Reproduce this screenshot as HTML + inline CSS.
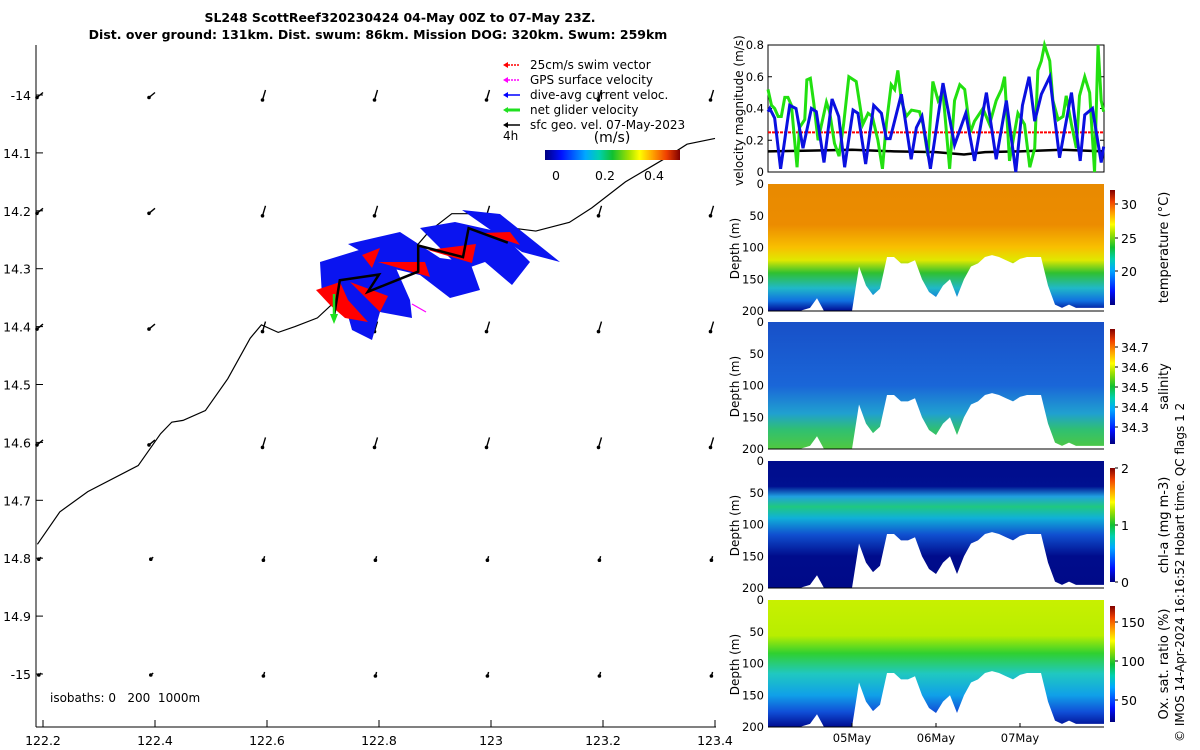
<!DOCTYPE html>
<html><head><meta charset="utf-8"><style>
body{margin:0;background:#fff;}
svg{display:block;font-family:"DejaVu Sans","Liberation Sans",sans-serif;}
</style></head><body>
<svg id="c" width="1200" height="750" viewBox="0 0 1200 750" xmlns="http://www.w3.org/2000/svg">
<defs>
<linearGradient id="jet" x1="0" y1="1" x2="0" y2="0">
<stop offset="0" stop-color="#000080"/><stop offset="0.12" stop-color="#0010ff"/><stop offset="0.3" stop-color="#00a8ff"/><stop offset="0.4" stop-color="#00d0b0"/><stop offset="0.5" stop-color="#10c030"/><stop offset="0.62" stop-color="#a0e000"/><stop offset="0.7" stop-color="#ffff00"/><stop offset="0.8" stop-color="#ffa000"/><stop offset="0.9" stop-color="#f04000"/><stop offset="1" stop-color="#800000"/></linearGradient>
<linearGradient id="jeth" x1="0" y1="0" x2="1" y2="0">
<stop offset="0" stop-color="#000080"/><stop offset="0.12" stop-color="#0010ff"/><stop offset="0.3" stop-color="#00a8ff"/><stop offset="0.4" stop-color="#00d0b0"/><stop offset="0.5" stop-color="#10c030"/><stop offset="0.62" stop-color="#a0e000"/><stop offset="0.7" stop-color="#ffff00"/><stop offset="0.8" stop-color="#ffa000"/><stop offset="0.9" stop-color="#f04000"/><stop offset="1" stop-color="#800000"/></linearGradient>
<linearGradient id="gT" x1="0" y1="0" x2="0" y2="1">
<stop offset="0" stop-color="#e88a00"/><stop offset="0.32" stop-color="#ec8c00"/><stop offset="0.5" stop-color="#f8c000"/><stop offset="0.6" stop-color="#e0e800"/><stop offset="0.7" stop-color="#30c030"/><stop offset="0.82" stop-color="#20b8c8"/><stop offset="0.92" stop-color="#1070e0"/><stop offset="1" stop-color="#000a90"/></linearGradient>
<linearGradient id="gS" x1="0" y1="0" x2="0" y2="1">
<stop offset="0" stop-color="#1850c8"/><stop offset="0.5" stop-color="#1a66d8"/><stop offset="0.72" stop-color="#20a0d0"/><stop offset="0.85" stop-color="#30c070"/><stop offset="1" stop-color="#50c840"/></linearGradient>
<linearGradient id="gC" x1="0" y1="0" x2="0" y2="1">
<stop offset="0" stop-color="#000c8c"/><stop offset="0.2" stop-color="#001090"/><stop offset="0.28" stop-color="#20a0e0"/><stop offset="0.36" stop-color="#20c880"/><stop offset="0.45" stop-color="#10b0d8"/><stop offset="0.58" stop-color="#1050d0"/><stop offset="0.75" stop-color="#000c8c"/><stop offset="1" stop-color="#000a88"/></linearGradient>
<linearGradient id="gO" x1="0" y1="0" x2="0" y2="1">
<stop offset="0" stop-color="#c8f000"/><stop offset="0.28" stop-color="#b8ee00"/><stop offset="0.42" stop-color="#30d030"/><stop offset="0.58" stop-color="#20c8c0"/><stop offset="0.75" stop-color="#10a0e8"/><stop offset="0.88" stop-color="#1050d8"/><stop offset="1" stop-color="#000c90"/></linearGradient>
</defs>
<text x="400" y="22" text-anchor="middle" font-weight="bold" font-size="12.5">SL248 ScottReef320230424 04-May 00Z to 07-May 23Z.</text>
<text x="378" y="39" text-anchor="middle" font-weight="bold" font-size="12.5">Dist. over ground: 131km. Dist. swum: 86km. Mission DOG: 320km. Swum: 259km</text>
<g id="map"></g>
<g id="vel"></g>
<g id="sec"></g>
<text transform="translate(1184,742) rotate(-90)" font-size="12">© IMOS 14-Apr-2024 16:16:52 Hobart time. QC flags 1  2</text>
</svg>
<script>
const NS='http://www.w3.org/2000/svg';
function mk(p,t,a,txt){const e=document.createElementNS(NS,t);for(const k in a)e.setAttribute(k,a[k]);if(txt!==undefined)e.textContent=txt;p.appendChild(e);return e;}
// ---- map data ----
const lonTicks=[122.2,122.4,122.6,122.8,123,123.2,123.4];
const latTicks=[-14,-14.1,-14.2,-14.3,-14.4,-14.5,-14.6,-14.7,-14.8,-14.9,-15];
const latLabels=['-14','14.1','14.2','14.3','14.4','14.5','14.6','14.7','14.8','14.9','-15'];
const gridLats=[-14,-14.2,-14.4,-14.6,-14.8,-15];
const gridLons=[122.2,122.4,122.6,122.8,123,123.2,123.4];
const coastLon=[122.19,122.23,122.28,122.37,122.41,122.43,122.45,122.49,122.53,122.57,122.59,122.62,122.65,122.69,122.74,122.85,122.89,122.93,122.97,123.04,123.08,123.14,123.18,123.24,123.31,123.35,123.4];
const coastLat=[-14.776,-14.72,-14.685,-14.64,-14.585,-14.565,-14.562,-14.545,-14.49,-14.42,-14.397,-14.41,-14.4,-14.385,-14.34,-14.28,-14.235,-14.205,-14.205,-14.23,-14.235,-14.22,-14.195,-14.15,-14.11,-14.085,-14.075];
const trackLon=[122.72,122.73,122.8,122.78,122.87,122.87,122.95,122.96,123.03];
const trackLat=[-14.38,-14.32,-14.31,-14.34,-14.305,-14.26,-14.28,-14.23,-14.255];
const X=l=>43+(l-122.2)*560, Y=l=>95+(-14-l)*579;
const map=document.getElementById('map');
let e;
e=mk(map,'line',{x1:36,y1:45,x2:36,y2:727,stroke:'#000'});
e=mk(map,'line',{x1:36,y1:727,x2:716,y2:727,stroke:'#000'});
lonTicks.forEach(l=>{mk(map,'line',{x1:X(l),y1:727,x2:X(l),y2:720,stroke:'#000'});e=mk(map,'text',{x:X(l),y:745,'text-anchor':'middle','font-size':12.5},String(l));});
latTicks.forEach((l,i)=>{mk(map,'line',{x1:36,y1:Y(l),x2:43,y2:Y(l),stroke:'#000'});e=mk(map,'text',{x:31,y:Y(l)+5,'text-anchor':'end','font-size':12.5},latLabels[i]);});
e=mk(map,'polyline',{points:coastLon.map((l,i)=>X(l)+','+Y(coastLat[i])).join(' '),fill:'none',stroke:'#000','stroke-width':1.2});
gridLats.forEach((la,r)=>gridLons.forEach((lo,c)=>{const x=X(lo)-3,y=Y(la);const s=la<-14.7?0.4:1;const dx=-(c<2?6:3)*s,dy=(c<2?5:10)*s;
 e=mk(map,'line',{x1:x-dx/2,y1:y-dy/2,x2:x+dx/2,y2:y+dy/2,stroke:'#000','stroke-width':1.4});
 mk(map,'circle',{cx:x+dx/2,cy:y+dy/2,r:1.8,fill:'#000'});}));
const blues=[
 [[320,262],[372,246],[395,266],[410,300],[412,318],[380,312],[372,340],[352,330],[345,305],[322,296]],
 [[348,244],[400,232],[440,258],[470,262],[480,290],[450,298],[420,275],[390,268]],
 [[420,228],[455,222],[500,232],[530,262],[512,285],[485,262],[462,270]],
 [[462,210],[500,214],[560,262],[522,252],[505,240]]];
blues.forEach(b=>{e=mk(map,'polygon',{points:b.map(p=>p.join(',')).join(' '),fill:'#0a14f0'});});
const red=[[316,290],[340,282],[348,300],[368,322],[345,318],[330,305]];
e=mk(map,'polygon',{points:red.map(p=>p.join(',')).join(' '),fill:'#f00'});
[[[350,282],[388,296],[380,312]],[[378,262],[430,277],[425,262]],[[428,250],[472,263],[476,244]],[[484,233],[520,245],[510,232]]].forEach(t=>{mk(map,'polygon',{points:t.map(p=>p.join(',')).join(' '),fill:'#f00'});});
mk(map,'polygon',{points:'362,255 380,248 372,268',fill:'#f00'});
e=mk(map,'polyline',{points:trackLon.map((l,i)=>X(l)+','+Y(trackLat[i])).join(' '),fill:'none',stroke:'#000','stroke-width':2.5});
mk(map,'line',{x1:334,y1:294,x2:334,y2:318,stroke:'#20e020','stroke-width':2.5});mk(map,'polygon',{points:'330,314 338,314 334,324',fill:'#20e020'});
mk(map,'line',{x1:412,y1:304,x2:426,y2:312,stroke:'#f0f','stroke-width':1.2});
// legend
const legC=['#f00','#f0f','#00f','#20e020','#000'],legT=['25cm/s swim vector','GPS surface velocity','dive-avg current veloc.','net glider velocity','sfc geo. vel. 07-May-2023'];
legT.forEach((t,i)=>{const y=65+i*15;const g=mk(map,'g',{});
 mk(g,'line',{x1:505,y1:y,x2:520,y2:y,stroke:legC[i],'stroke-width':i==3?3:1.5,'stroke-dasharray':i<2?'2,1':'none'});mk(g,'polygon',{points:`503,${y} 508,${y-3} 508,${y+3}`,fill:legC[i]});
 mk(g,'text',{x:530,y:y+4,'font-size':12},t);});
mk(map,'text',{x:503,y:140,'font-size':12},'4h');
mk(map,'text',{x:612,y:142,'text-anchor':'middle','font-size':14},'(m/s)');
e=mk(map,'rect',{x:545,y:150,width:135,height:10,fill:'url(#jeth)'});
[['0',556],['0.2',605],['0.4',654]].forEach(a=>mk(map,'text',{x:a[1],y:180,'text-anchor':'middle','font-size':12.5},a[0]));
e=mk(map,'text',{x:50,y:702,'font-size':12,style:'white-space:pre'},'isobaths: 0   200  1000m');

// ---- velocity panel ----
const blueT=[0,0.5,1.9,3.6,6.2,8.0,10.0,12.4,13.8,16.0,18.3,20.2,21.9,24.3,25.7,27.9,30.2,32.4,33.8,34.9,38.1,40.9,42.4,44.0,46.4,50.0,53.3,56.5,59.0,62.4,65.2,68.1,70.8,72.7,74.6,76.2,78.1,80.5,83.3,86.7,89.2,90.5,92.7,95.2,95.9];
const blueV=[0.38,0.40,0.34,0.02,0.42,0.40,0.15,0.40,0.38,0.06,0.46,0.35,0.03,0.39,0.37,0.05,0.42,0.37,0.21,0.21,0.49,0.08,0.28,0.35,0.02,0.56,0.17,0.37,0.07,0.50,0.08,0.45,0.0,0.42,0.60,0.32,0.49,0.60,0.09,0.50,0.07,0.36,0.40,0.06,0.16];
const greenT=[0,1.0,1.9,2.9,3.8,4.8,5.7,6.7,7.6,8.3,9.0,10.5,11.1,12.1,13.1,14.3,15.7,16.7,17.6,19.0,20.3,21.6,23.1,25.2,27.1,28.6,29.8,31.4,32.7,33.8,35.2,36.2,37.1,38.1,39.5,41.0,43.3,44.3,45.7,47.1,48.6,50.0,51.9,53.3,54.8,56.2,57.8,59.0,61.4,63.3,65.2,66.7,67.6,69.0,71.4,73.3,74.8,76.2,77.1,78.1,79.0,80.5,81.4,82.9,84.3,85.2,86.7,88.1,89.0,90.5,91.9,93.3,94.3,95.2,95.9];
const greenV=[0.52,0.42,0.40,0.35,0.35,0.47,0.47,0.42,0.20,0.03,0.28,0.33,0.58,0.59,0.43,0.20,0.34,0.44,0.38,0.18,0.10,0.30,0.60,0.57,0.30,0.37,0.35,0.20,0.02,0.30,0.55,0.52,0.64,0.45,0.35,0.39,0.38,0.30,0.10,0.57,0.45,0.50,0.02,0.45,0.55,0.52,0.25,0.32,0.40,0.30,0.45,0.52,0.60,0.07,0.37,0.30,0.03,0.15,0.64,0.70,0.80,0.70,0.45,0.33,0.35,0.48,0.30,0.15,0.48,0.60,0.50,0.0,0.80,0.45,0.38];
const geoT=[0,12,24,36,48,56,62,72,84,96];
const geoV=[0.13,0.135,0.14,0.13,0.125,0.11,0.125,0.13,0.14,0.13];
const swimV=0.25;
const velTicks=[0,0.2,0.4,0.6,0.8];
const VX=h=>768+h*3.5, VY=v=>172-v*158.75;
const vel=document.getElementById('vel');
mk(vel,'rect',{x:768,y:45,width:336,height:127,fill:'none',stroke:'#000'});
velTicks.forEach(v=>{mk(vel,'line',{x1:768,y1:VY(v),x2:772,y2:VY(v),stroke:'#000'});mk(vel,'line',{x1:1104,y1:VY(v),x2:1100,y2:VY(v),stroke:'#000'});mk(vel,'text',{x:764,y:VY(v)+4,'text-anchor':'end','font-size':11.5},String(v));});
e=mk(vel,'text',{transform:'translate(743,186) rotate(-90)','font-size':12},'velocity magnitude (m/s)');
e=mk(vel,'line',{x1:768,y1:VY(swimV),x2:1104,y2:VY(swimV),stroke:'#f00','stroke-width':2,'stroke-dasharray':'3,1'});
e=mk(vel,'polyline',{points:geoT.map((t,i)=>VX(t)+','+VY(geoV[i])).join(' '),fill:'none',stroke:'#000','stroke-width':2.5});
e=mk(vel,'polyline',{points:greenT.map((t,i)=>VX(t)+','+VY(greenV[i])).join(' '),fill:'none',stroke:'#22e010','stroke-width':3});
e=mk(vel,'polyline',{points:blueT.map((t,i)=>VX(t)+','+VY(blueV[i])).join(' '),fill:'none',stroke:'#0a10e0','stroke-width':3});

// ---- sections ----
const profT=[0,3,6,9,12,14,16,18,22,24,26,28,30,32,34,36,38,40,42,44,46,48,50,52,54,56,58,60,62,64,66,68,70,72,74,76,78,80,82,84,86,88,90,92,94,96];
const profD=[200,200,200,200,195,180,200,200,200,200,130,160,175,165,115,115,125,125,120,150,170,178,160,150,178,150,130,125,115,112,115,120,125,118,115,115,115,160,190,195,190,195,195,195,195,195];
const dayTicks=['05May','06May','07May'];
const depthTicks=[0,50,100,150,200];
const panels=[
 {top:184,g:'gT',name:'temperature',label:'temperature (°C)',cb:[190,305],ct:[['30',204],['25',238],['20',271]]},
 {top:322,g:'gS',name:'salinity',label:'salinity',cb:[329,444],ct:[['34.7',347],['34.6',367],['34.5',387],['34.4',407],['34.3',427]]},
 {top:461,g:'gC',name:'chl-a',label:'chl-a (mg m-3)',cb:[468,582],ct:[['2',468],['1',525],['0',582]]},
 {top:600,g:'gO',name:'oxygen',label:'Ox. sat. ratio (%)',cb:[606,722],ct:[['150',622],['100',661],['50',700]]}];
const sec=document.getElementById('sec');
panels.forEach((p,pi)=>{const DY=d=>p.top+d*0.635;const g=mk(sec,'g',{});
 const gid='u'+pi;const lg=mk(sec,'linearGradient',{id:gid,gradientUnits:'userSpaceOnUse',x1:0,y1:DY(0),x2:0,y2:DY(200)});
 document.getElementById(p.g).querySelectorAll('stop').forEach(s=>lg.appendChild(s.cloneNode()));
 const pts=[VX(0)+','+DY(0)].concat(profT.map((t,i)=>VX(t)+','+DY(profD[i]))).concat([VX(96)+','+DY(0)]);
 e=mk(g,'polygon',{points:pts.join(' '),fill:`url(#${gid})`});
 mk(g,'line',{x1:768,y1:DY(200),x2:1104,y2:DY(200),stroke:'#000'});
 depthTicks.forEach(d=>mk(g,'text',{x:764,y:DY(d)+4,'text-anchor':'end','font-size':11.5},String(d)));
 mk(g,'text',{transform:`translate(739,${DY(150)}) rotate(-90)`,'font-size':12},'Depth (m)');
 e=mk(g,'rect',{x:1110,y:p.cb[0],width:5,height:p.cb[1]-p.cb[0],fill:'url(#jet)'});
 p.ct.forEach(c=>{mk(g,'line',{x1:1115,y1:c[1],x2:1118,y2:c[1],stroke:'#000'});mk(g,'text',{x:1121,y:c[1]+5,'font-size':12.5},c[0]);});
 mk(g,'text',{transform:`translate(1168,${(p.cb[0]+p.cb[1])/2}) rotate(-90)`,'text-anchor':'middle','font-size':13},p.label);
});
dayTicks.forEach((d,i)=>{const x=VX(24*(i+1));mk(sec,'line',{x1:x,y1:727,x2:x,y2:723,stroke:'#000'});e=mk(sec,'text',{x:x,y:742,'text-anchor':'middle','font-size':11.5},d);});
</script>
</body></html>
